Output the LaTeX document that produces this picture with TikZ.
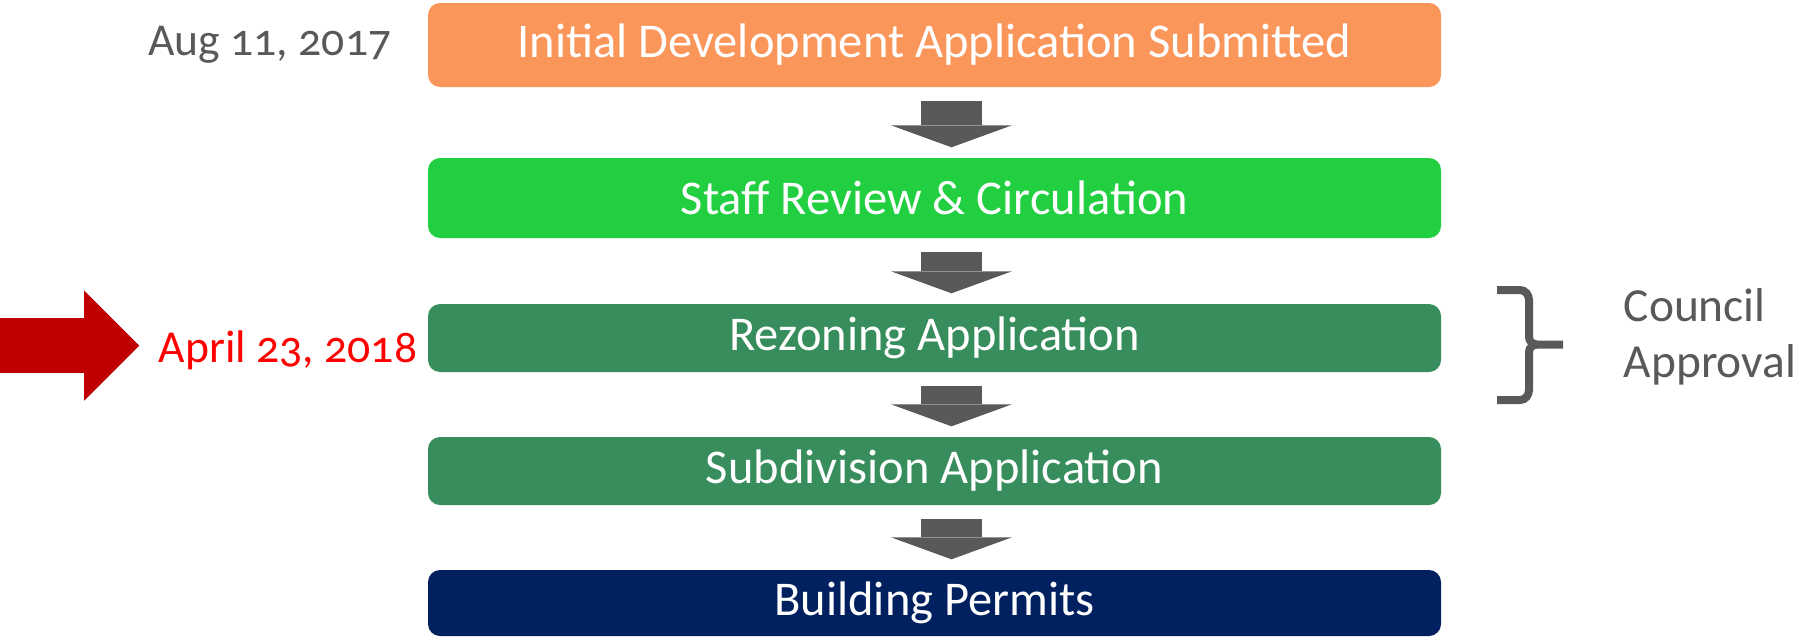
\documentclass[tikz,border=0pt]{standalone}
\usepackage{fontspec}
\setmainfont{Carlito}[Numbers=OldStyle]
\usepackage{tikz}
\usetikzlibrary{arrows.meta}

\definecolor{initorange}{HTML}{FB965B}
\definecolor{reviewgreen}{HTML}{22CF41}
\definecolor{appgreen}{HTML}{378D5B}
\definecolor{permitnavy}{HTML}{00205F}
\definecolor{arrowgray}{HTML}{58595B}
\definecolor{labelgray}{HTML}{595959}
\definecolor{markred}{HTML}{C00000}

\tikzset{
	stage/.style={rounded corners=0.12cm, minimum width=10.13cm, inner sep=0pt,
		text=white, font=\fontsize{13.8}{16}\selectfont},
	flow/.style={arrowgray, line width=0.61cm, shorten <=0.13cm, shorten >=0.1cm,
		-{Triangle[width=1.21cm,length=0.22cm,line width=0pt]}},
	datelabel/.style={inner sep=0pt, font=\fontsize{13}{15}\selectfont}
}

\begin{document}
\begin{tikzpicture}
	\useasboundingbox (0,0) rectangle (18,6.37);

	% stages
	\node[stage, fill=initorange, minimum height=0.84cm] (init) at (9.345,5.92) {Initial Development Application Submitted};
	\node[stage, fill=reviewgreen, minimum height=0.80cm] (staff) at (9.345,4.39) {Staff Review \& Circulation};
	\node[stage, fill=appgreen, minimum height=0.68cm] (rezone) at (9.345,2.99) {Rezoning Application};
	\node[stage, fill=appgreen, minimum height=0.68cm] (subdiv) at (9.345,1.66) {Subdivision Application};
	\node[stage, fill=permitnavy, minimum height=0.66cm] (permits) at (9.345,0.34) {Building Permits};

	% arrows
	\draw [flow] ([xshift=0.17cm]init.south) -- ([xshift=0.17cm]staff.north);
	\draw [flow] ([xshift=0.17cm]staff.south) -- ([xshift=0.17cm]rezone.north);
	\draw [flow] ([xshift=0.17cm]rezone.south) -- ([xshift=0.17cm]subdiv.north);
	\draw [flow] ([xshift=0.17cm]subdiv.south) -- ([xshift=0.17cm]permits.north);

	% dates
	\node[datelabel, text=labelgray, anchor=base east] (submitted) at (3.92,5.82) {Aug 11, 2017};
	\node[datelabel, text=red, anchor=base east] (today) at (4.18,2.75) {April 23, 2018};
	\coordinate (redtail) at (0,2.915);
	\draw [markred, line width=0.55cm, shorten >=0.19cm,
		-{Triangle[width=1.10cm,length=0.55cm,line width=0pt]}] (redtail) -- (redtail -| today.west);

	% brace
	\draw [arrowgray, line width=0.08cm] (14.97,3.47) -- (15.20,3.47) to[out=0,in=90] (15.29,3.37)
		-- (15.29,3.00) to[out=-90,in=180] (15.37,2.925) -- (15.63,2.925);
	\draw [arrowgray, line width=0.08cm] (14.97,2.37) -- (15.20,2.37) to[out=0,in=-90] (15.29,2.47)
		-- (15.29,2.85) to[out=90,in=180] (15.37,2.925);
	\node[inner sep=0pt, anchor=west, align=left, text=labelgray,
		font=\fontsize{13.5}{15.9}\selectfont] (council) at (16.23,3.005) {Council\\Approval};
\end{tikzpicture}
\end{document}
